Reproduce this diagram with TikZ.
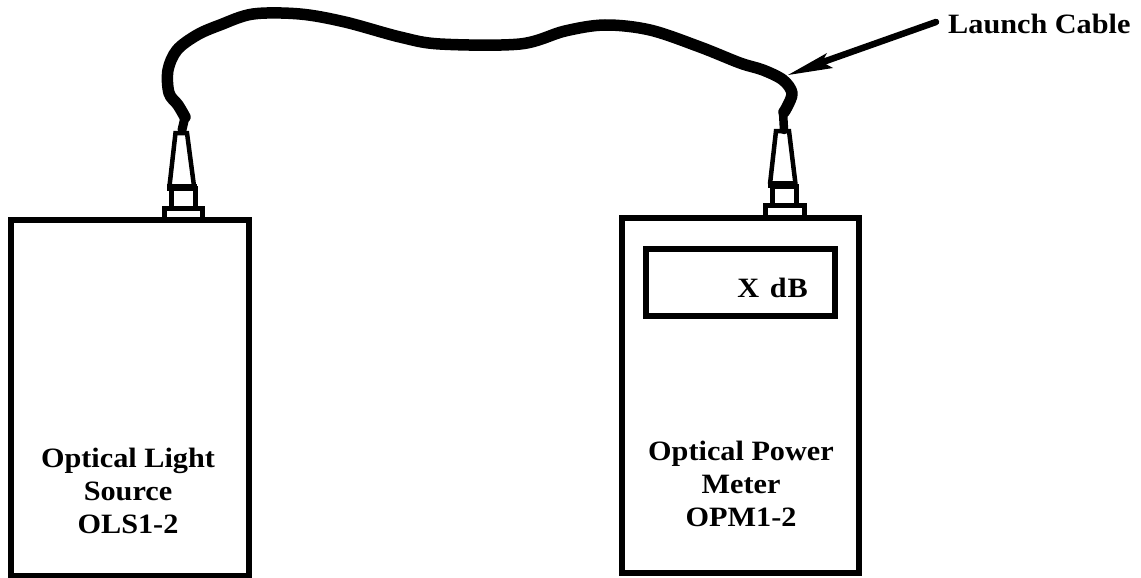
\documentclass[tikz,border=0pt]{standalone}
\usepackage{fontspec}
\setmainfont{Liberation Serif}[Ligatures=TeX]
\newfontfamily\lblfont{Liberation Serif}[FakeStretch=1.08]
\usetikzlibrary{arrows.meta}
\tikzset{
  x=1pt,y=-1pt,
  device/.style={draw=black,line width=6pt,fill=white,inner sep=0pt,outer sep=0pt},
  part/.style={draw=black,line width=5pt,line join=miter},
  cable/.style={draw=black,line width=11.5pt,line cap=round,line join=round},
  lbl/.style={font=\fontsize{28}{33}\lblfont\bfseries,align=center,inner sep=0pt,text=black},
}
\begin{document}
\begin{tikzpicture}
\useasboundingbox[fill=white] (0,0) rectangle (1141,578);
% connectors (ferrule assemblies)
\draw[part] (164.5,217) -- (164.5,208.5) -- (202.5,208.5) -- (202.5,217);
\draw[part] (171.5,207) -- (171.5,188.5) -- (195,188.5) -- (195,207);
\draw[part,line width=7pt] (167,187) -- (197,187);
\draw[part,line width=4.5pt] (169.5,186) -- (175.5,133) -- (187,133) -- (194,186);
\draw[part] (765.5,215) -- (765.5,205.5) -- (804,205.5) -- (804,215);
\draw[part] (772.5,204) -- (772.5,186) -- (796.5,186) -- (796.5,204);
\draw[part,line width=7pt] (768,184.5) -- (797,184.5);
\draw[part,line width=4.5pt] (770,184) -- (776,131) -- (789,131) -- (795.5,184);
% devices
\node[device,minimum width=238pt,minimum height=355.5pt] (ols) at (130,397.75) {};
\node[device,minimum width=236.5pt,minimum height=355pt] (opm) at (740.25,395.5) {};
\node[draw=black,line width=6pt,inner sep=0pt,minimum width=189pt,minimum height=67pt] (disp) at (740,282) {};
% cable
\coordinate (cableA) at (182,130);
\coordinate (cableB) at (784,130);
\draw[cable,line width=9pt] plot[smooth,tension=0.55] coordinates {(cableA) (185,117)};
\draw[cable,line width=8.5pt] plot[smooth,tension=0.55] coordinates {(cableB) (783,112)};
\draw[cable] plot[smooth,tension=0.55] coordinates {(185,117) (178,105) (169,93) (168,70) (177,50) (197,35) (220,25) (253,14) (300,14) (345,22) (400,37) (440,44) (520,44) (565,31) (605,25) (650,30) (700,47) (740,63) (763,70) (783,80) (792,93) (787,107) (784,112)};
% pointer
\node[lbl,anchor=base west] (launch) at (948,34) {Launch Cable};
\coordinate (tail) at (936,22);
\coordinate (tip) at (788,75);
\draw[black,line width=6.5pt,line cap=round] (tail) -- (823,62);
\fill[black] (tip) -- (827,53) -- (822,62) -- (833,68) -- cycle;
% labels
\node[lbl] (olstext) at (128,490.5) {Optical Light\\Source\\OLS1-2};
\node[lbl] (opmtext) at (741,484) {Optical Power\\Meter\\OPM1-2};
\node[lbl,anchor=base east] (xdb) at (808,297) {X\hspace{3pt} d\hspace{1pt}B};
\end{tikzpicture}
\end{document}
